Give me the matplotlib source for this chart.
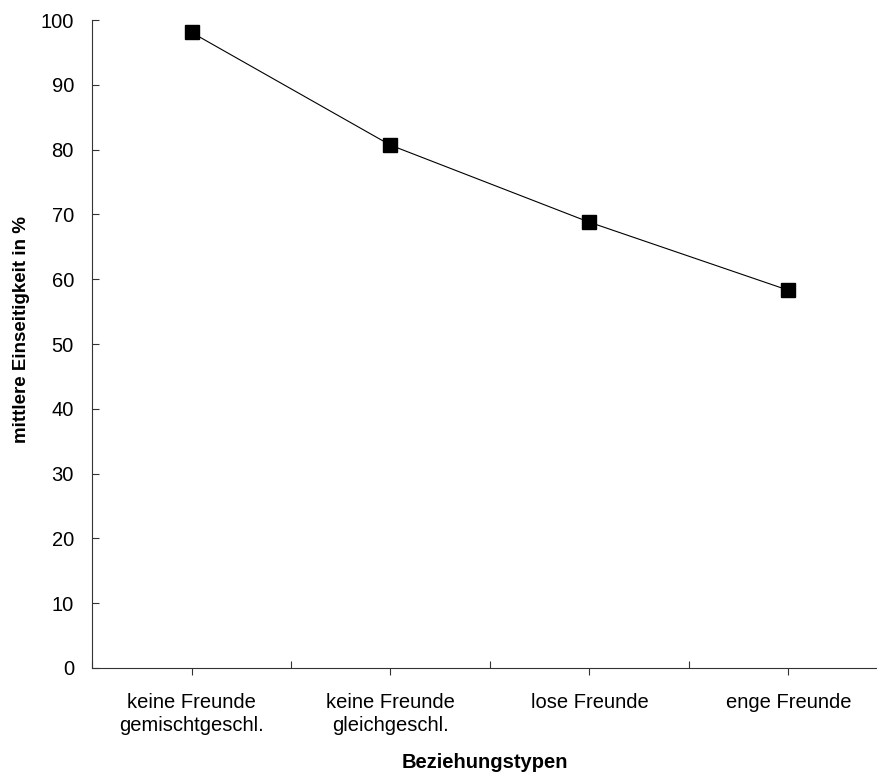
import matplotlib
matplotlib.use("Agg")
import matplotlib.pyplot as plt
from matplotlib.ticker import FixedLocator

plt.rcParams['font.family'] = ['Liberation Sans', 'DejaVu Sans']

categories = ["keine Freunde\ngemischtgeschl.", "keine Freunde\ngleichgeschl.",
              "lose Freunde", "enge Freunde"]
einseitigkeit = [98.1, 80.7, 68.8, 58.3]
y_ticks = [0, 10, 20, 30, 40, 50, 60, 70, 80, 90, 100]

fig = plt.figure(figsize=(8.78, 7.74), dpi=100)
ax = fig.add_axes([0.1048, 0.137, 0.8952, 0.837])

x = list(range(len(categories)))
ax.plot(x, einseitigkeit, color="black", linewidth=0.8, marker="s",
        markersize=10.5, markerfacecolor="black", markeredgecolor="black",
        clip_on=False, zorder=3)

ax.set_xlim(-0.5, 3.45)
ax.set_ylim(0, 100)
ax.set_yticks(y_ticks)
ax.set_xticks(x)
ax.set_xticklabels(categories, fontsize=14.5, linespacing=1.25)
ax.xaxis.set_minor_locator(FixedLocator([-0.5, 0.5, 1.5, 2.5]))

ax.tick_params(axis="x", which="major", direction="out", length=5, width=0.8, pad=13, colors="#333333", labelcolor="black")
ax.tick_params(axis="x", which="minor", direction="in", length=5, width=0.8, colors="#333333")
ax.tick_params(axis="y", which="major", direction="in", length=5, width=0.8, pad=13, labelsize=14.5, colors="#333333", labelcolor="black")

for side in ["top", "right"]:
    ax.spines[side].set_visible(False)
for side in ["left", "bottom"]:
    ax.spines[side].set_color("#333333")
    ax.spines[side].set_linewidth(0.8)

ax.set_xlabel("Beziehungstypen", fontsize=14.5, fontweight="bold", labelpad=13)
ax.set_ylabel("mittlere Einseitigkeit in %", fontsize=13.5, fontweight="bold")
ax.yaxis.set_label_coords(-0.079, 0.523)

fig.savefig("out.png", dpi=100)
